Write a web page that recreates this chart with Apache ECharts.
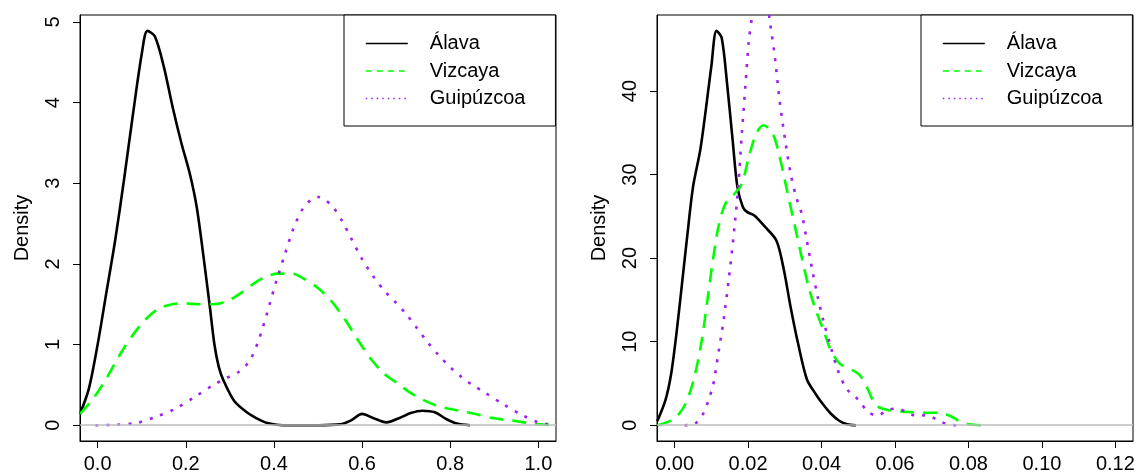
<!DOCTYPE html>
<html>
<head>
<meta charset="utf-8">
<script src="https://cdn.jsdelivr.net/npm/echarts@6/dist/echarts.min.js"></script>
<style>
  html, body { margin: 0; background: #fff; }
  #chart { width: 1138px; height: 474px; }
</style>
</head>
<body>
<div id="chart"></div>
<script>
// names of the three provinces
const names = ['Álava', 'Vizcaya', 'Guipúzcoa'];

// left panel: density curves as [x, density]
const alavaA = [[-0.04,0.14],[-0.02,0.45],[0.0,1.0],[0.02,1.65],[0.04,2.3],[0.06,3.05],[0.08,3.85],[0.10,4.6],[0.113,4.89],[0.13,4.82],[0.15,4.45],[0.17,3.95],[0.19,3.5],[0.21,3.1],[0.225,2.7],[0.24,2.1],[0.255,1.45],[0.265,1.0],[0.275,0.72],[0.286,0.55],[0.31,0.3],[0.34,0.155],[0.37,0.06],[0.39,0.02],[0.42,0.0],[0.5,0.0],[0.55,0.01],[0.575,0.06],[0.60,0.14],[0.625,0.09],[0.655,0.035],[0.685,0.09],[0.71,0.15],[0.737,0.18],[0.765,0.16],[0.79,0.08],[0.815,0.02],[0.845,0.0]];
const vizcayaA = [[-0.04,0.14],[-0.01,0.33],[0.02,0.58],[0.05,0.87],[0.08,1.12],[0.11,1.32],[0.14,1.45],[0.17,1.5],[0.2,1.51],[0.23,1.5],[0.26,1.5],[0.29,1.53],[0.32,1.62],[0.35,1.74],[0.38,1.84],[0.41,1.88],[0.44,1.88],[0.47,1.81],[0.5,1.7],[0.53,1.54],[0.56,1.32],[0.59,1.06],[0.62,0.82],[0.65,0.64],[0.68,0.52],[0.71,0.4],[0.74,0.31],[0.77,0.24],[0.8,0.2],[0.83,0.17],[0.86,0.135],[0.89,0.095],[0.92,0.07],[0.95,0.05],[0.98,0.025],[1.01,0.008],[1.04,0.0]];
const guipuzcoaA = [[-0.005,0],[0.04,0.005],[0.09,0.03],[0.135,0.11],[0.175,0.2],[0.22,0.35],[0.26,0.49],[0.29,0.58],[0.32,0.66],[0.345,0.8],[0.365,1.05],[0.385,1.4],[0.405,1.78],[0.425,2.12],[0.445,2.45],[0.465,2.68],[0.485,2.8],[0.5,2.83],[0.515,2.8],[0.535,2.7],[0.555,2.53],[0.575,2.32],[0.6,2.06],[0.625,1.85],[0.65,1.67],[0.675,1.53],[0.7,1.38],[0.725,1.2],[0.75,1.02],[0.775,0.86],[0.8,0.72],[0.825,0.6],[0.85,0.5],[0.88,0.4],[0.92,0.26],[0.96,0.135],[1.0,0.035],[1.04,0.0]];

// right panel
const alavaB = [[-0.0047,0.5],[-0.0025,3.0],[-0.001,6.0],[0.0005,11.0],[0.002,16.9],[0.0035,22.9],[0.005,28.5],[0.007,33.0],[0.0085,37.8],[0.01,43.0],[0.0114,47.2],[0.0128,46.4],[0.0143,40.8],[0.0158,34.1],[0.0171,28.5],[0.0186,26.1],[0.0198,25.5],[0.0217,25.1],[0.0247,23.7],[0.0277,22.1],[0.0296,18.9],[0.0316,14.1],[0.0336,9.8],[0.036,5.5],[0.0383,3.8],[0.0404,2.5],[0.0425,1.4],[0.0449,0.5],[0.047,0.1],[0.0494,0]];
const vizcayaB = [[-0.0046,0],[0,0.8],[0.003,2.6],[0.0054,5.8],[0.0074,10.2],[0.0089,14.9],[0.0104,19.7],[0.0119,23.7],[0.0138,26.5],[0.0163,27.7],[0.0183,28.9],[0.0202,32.1],[0.0222,34.9],[0.0242,35.9],[0.0267,34.9],[0.0286,32.1],[0.0306,28.1],[0.0326,24.1],[0.0346,20.1],[0.0365,16.5],[0.0385,13.7],[0.0405,11.4],[0.0425,9.0],[0.0449,7.4],[0.0479,6.7],[0.0504,6.0],[0.0523,4.6],[0.0548,2.4],[0.0583,1.8],[0.0632,1.6],[0.0681,1.5],[0.0721,1.5],[0.0751,1.1],[0.0775,0.5],[0.08,0.12],[0.0835,0]];
const guipuzcoaB = [[0.0027,0],[0.0054,0.15],[0.0074,1.1],[0.0086,2.2],[0.0095,3.4],[0.0104,4.6],[0.0119,8.6],[0.0133,12.5],[0.0148,17.7],[0.0163,23.7],[0.0173,28.5],[0.0183,34.9],[0.0193,40.8],[0.0202,46.0],[0.0212,49.2],[0.0225,52.5],[0.0238,53.0],[0.025,51.5],[0.0259,48.4],[0.0272,44.4],[0.0286,38.8],[0.0301,34.1],[0.0316,30.1],[0.0331,27.3],[0.0346,25.3],[0.036,22.1],[0.0375,18.5],[0.039,15.3],[0.0405,12.5],[0.0425,9.4],[0.0444,6.6],[0.0469,4.3],[0.049,3.5],[0.0508,2.6],[0.0526,1.6],[0.0551,1.15],[0.058,1.8],[0.0605,2.0],[0.063,1.6],[0.066,1.1],[0.0685,1.2],[0.0713,0.7],[0.074,0.15],[0.0767,0]];

// axis extents and tick values
const xRangeA = [-0.04, 1.04];
const yRangeA = [-0.196, 5.087];
const xTicksA = [0, 0.2, 0.4, 0.6, 0.8, 1.0];
const yTicksA = [0, 1, 2, 3, 4, 5];
const xRangeB = [-0.0048, 0.1248];
const yRangeB = [-1.89, 49.1];
const xTicksB = [0, 0.02, 0.04, 0.06, 0.08, 0.10, 0.12];
const yTicksB = [0, 10, 20, 30, 40];

const font = "'Liberation Sans', Arial, Helvetica, sans-serif";
const colors = ['#000000', '#00ff00', '#a020f0'];
const lineTypes = ['solid', [14, 9], [3, 8]];
const legendTypes = ['solid', [6, 5], [1.5, 4]];

const chart = echarts.init(document.getElementById('chart'));

function xAxis(idx, range, ticks, digits) {
  return {
    type: 'value', gridIndex: idx, min: range[0], max: range[1],
    axisLine: { show: true, onZero: false, lineStyle: { color: '#000', width: 1 } },
    splitLine: { show: false },
    axisTick: { show: true, length: 7, customValues: ticks, lineStyle: { color: '#000' } },
    axisLabel: {
      customValues: ticks, margin: 13, fontSize: 20, color: '#000', fontFamily: font,
      formatter: (v) => v.toFixed(digits),
    },
  };
}

function yAxis(idx, range, ticks) {
  return {
    type: 'value', gridIndex: idx, min: range[0], max: range[1],
    axisLine: { show: true, onZero: false, lineStyle: { color: '#000', width: 1 } },
    splitLine: { show: false },
    axisTick: { show: true, length: 7, customValues: ticks, lineStyle: { color: '#000' } },
    axisLabel: {
      customValues: ticks, rotate: 90, margin: 17, fontSize: 20, color: '#000', fontFamily: font,
      formatter: (v) => String(v),
    },
    name: 'Density', nameLocation: 'middle', nameRotate: 90, nameGap: 48,
    nameTextStyle: { fontSize: 20, color: '#000', fontFamily: font },
  };
}

function curve(i, data, idx) {
  const s = {
    name: names[i], type: 'line', xAxisIndex: idx, yAxisIndex: idx,
    data: data, symbol: 'none', showSymbol: false, smooth: 0.3, clip: true, silent: true,
    lineStyle: { color: colors[i], width: 2.6, type: lineTypes[i] },
    itemStyle: { color: colors[i] },
  };
  if (i === 0) {
    // gray zero line like plot.density
    s.markLine = {
      silent: true, symbol: ['none', 'none'], label: { show: false },
      lineStyle: { color: '#bebebe', type: 'solid', width: 1.5 },
      data: [{ yAxis: 0 }],
    };
  }
  return s;
}

function legend(left) {
  return {
    left: left, top: 15, orient: 'vertical', selectedMode: false,
    padding: [18.5, 30, 17.5, 21],
    itemWidth: 42, itemHeight: 20, itemGap: 7.5,
    borderColor: '#000', borderWidth: 1, backgroundColor: '#fff',
    textStyle: { fontSize: 20, lineHeight: 20, color: '#000', fontFamily: font, padding: [0, 0, 0, 17] },
    itemStyle: { opacity: 0, borderWidth: 0 },
    data: names.map((n, i) => ({
      name: n,
      itemStyle: { opacity: 0, borderWidth: 0 },
      lineStyle: { color: colors[i], width: 1.6, type: legendTypes[i] },
    })),
  };
}

const option = {
  animation: false,
  backgroundColor: '#fff',
  grid: [
    { left: 80, top: 15, width: 476, height: 426, show: true, borderColor: '#000', borderWidth: 1, outerBoundsMode: 'none' },
    { left: 657, top: 15, width: 476, height: 426, show: true, borderColor: '#000', borderWidth: 1, outerBoundsMode: 'none' },
  ],
  legend: [legend(344), legend(921)],
  xAxis: [xAxis(0, xRangeA, xTicksA, 1), xAxis(1, xRangeB, xTicksB, 2)],
  yAxis: [yAxis(0, yRangeA, yTicksA), yAxis(1, yRangeB, yTicksB)],
  series: [
    curve(0, alavaA, 0), curve(1, vizcayaA, 0), curve(2, guipuzcoaA, 0),
    curve(0, alavaB, 1), curve(1, vizcayaB, 1), curve(2, guipuzcoaB, 1),
  ],
};

chart.setOption(option);
</script>
</body>
</html>
